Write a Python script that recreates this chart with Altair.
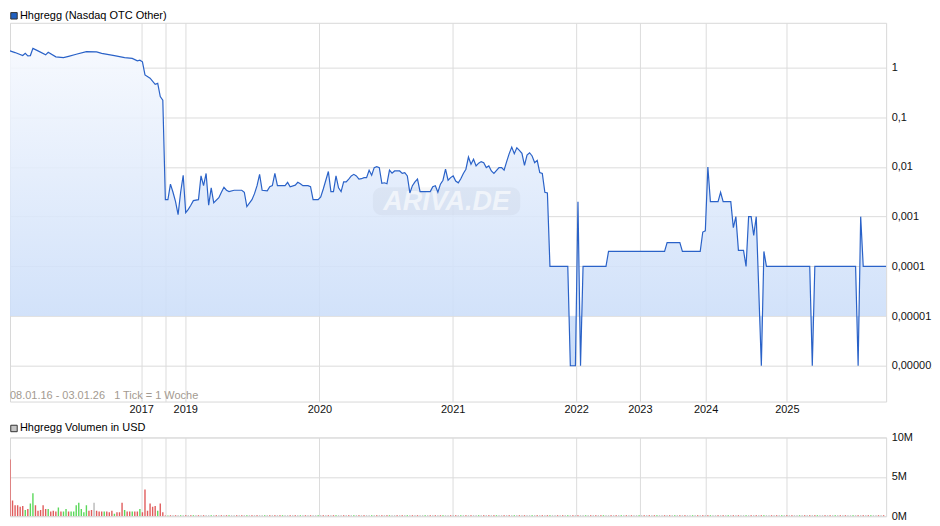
import altair as alt
import pandas as pd

# ---------------- data ----------------
# price: weekly tick index -> price (USD)
price_idx = [0, 2, 5, 6, 7, 8, 9, 11, 14, 15, 18, 21, 23, 26, 30, 34, 36, 41, 45, 48, 50, 51, 52, 53, 55, 57, 58, 59, 60, 61,
             62, 63, 64, 65, 66, 67, 68, 69, 70, 71, 72, 74, 75, 76, 77, 78, 79, 80, 82, 83, 84, 85, 86, 88, 91, 92, 93, 95, 96,
             97, 98, 99, 101, 102, 103, 104, 105, 108, 109, 110, 112, 113, 114, 115, 117, 118, 119, 121, 122, 123, 125, 126,
             127, 128, 129, 130, 131, 132, 133,
             134, 135, 136, 137, 138, 139, 140, 141, 142, 143, 144, 145, 146, 147, 148, 149, 150, 151, 153, 154, 155, 156,
             157, 158, 159, 160, 161, 165, 166, 167, 168, 169, 170, 171, 172, 173, 174, 175, 176, 177, 178, 179, 180, 181,
             182, 183, 184, 185, 186, 187, 188, 189, 190, 192, 193, 194, 195, 196, 197, 198, 199, 200, 201, 202, 203, 204,
             205, 206, 207, 208, 209, 210, 211,
             212, 219, 220, 222, 223, 224, 225, 234, 235, 257, 258, 263, 264, 271, 272, 273, 274, 275, 278, 279, 280, 283,
             284, 285, 286, 288, 289, 290, 291, 292, 293, 295, 296, 297, 314, 315, 316, 332, 333, 334, 335, 344]
price_val = [2.16, 2.0, 1.74, 1.93, 1.72, 1.74, 2.43, 2.16, 1.8, 2.02, 1.64, 1.58, 1.68, 1.85, 2.09, 2.06, 1.92, 1.74, 1.58,
             1.53, 1.36, 1.40, 1.30, 0.71, 0.61, 0.46, 0.48, 0.26, 0.22, 0.0022,
             0.0022, 0.0045, 0.0031, 0.0020, 0.0011, 0.0031, 0.0068, 0.0012, 0.0014, 0.0017, 0.0021, 0.0022, 0.0066,
             0.0042, 0.0074, 0.0017, 0.0038, 0.0019, 0.0024, 0.0031, 0.0039, 0.0034, 0.0032, 0.0034, 0.0034, 0.0031,
             0.0016, 0.0022, 0.0029, 0.0042, 0.0071, 0.0034, 0.0033, 0.0040, 0.0042, 0.0074, 0.0042, 0.0042, 0.0049,
             0.0040, 0.0043, 0.0049, 0.0046, 0.0042, 0.0042, 0.0040, 0.0022, 0.0022, 0.0025, 0.0036, 0.0081, 0.0032,
             0.0032, 0.0066, 0.0038, 0.0032, 0.0050, 0.0050, 0.0057,
             0.0066, 0.0071, 0.0066, 0.0057, 0.0058, 0.0061, 0.0061, 0.0086, 0.0068, 0.0097, 0.0101, 0.0097, 0.0047,
             0.0048, 0.0046, 0.0086, 0.0075, 0.0083, 0.0083, 0.0074, 0.0077, 0.0066, 0.0030, 0.0042, 0.0050, 0.0057,
             0.0032, 0.0032, 0.0040, 0.0042, 0.0031, 0.0045, 0.0054, 0.0090, 0.0054, 0.0061, 0.0066, 0.0052, 0.0048,
             0.0058, 0.0074, 0.0090, 0.0158, 0.0113, 0.0143, 0.0105, 0.0119, 0.0128, 0.0122, 0.0097, 0.0105, 0.0083,
             0.0074, 0.0097, 0.0097, 0.0086, 0.0128, 0.0185, 0.0251, 0.0185, 0.0243, 0.0216, 0.0188, 0.0108, 0.0174,
             0.0193, 0.0166, 0.0122, 0.0136, 0.0077, 0.0074, 0.0031, 0.0030,
             0.0001, 0.0001, 0.000001, 0.000001, 0.002, 0.000001, 0.0001, 0.0001, 0.0002, 0.0002, 0.0003, 0.0003,
             0.0002, 0.0002, 0.00049, 0.00052, 0.01, 0.002, 0.002, 0.0031, 0.002, 0.002, 0.0006, 0.001, 0.00021,
             0.00021, 0.0001, 0.001, 0.001, 0.00042, 0.001, 0.000001, 0.0002, 0.0001, 0.0001, 0.000001, 0.0001,
             0.0001, 0.000001, 0.001, 0.0001, 0.0001]

# weekly volume in million USD (first weeks), direction r=down g=up n=unchanged
vol_early = [7.2, 2.0, 1.4, 1.4, 1.2, 1.3, 0.8, 0.9, 1.6, 2.9, 1.4, 0.7, 0.8, 1.4, 0.9, 0.9, 0.6, 0.7, 0.6, 1.1,
             0.6, 0.6, 0.9, 0.6, 0.6, 0.6, 1.4, 1.7, 0.9, 0.5, 1.4, 0.7, 0.8, 1.7, 0.7, 0.6, 0.6, 0.6, 0.6, 0.5,
             0.7, 0.3, 0.5, 0.5, 1.7, 0.8, 0.6, 0.6, 0.6, 0.6, 0.6, 0.9, 0.5, 3.4, 0.7, 1.6, 1.2, 1.3, 0.7, 1.6,
             0.5, 0.1, 0.1]
vol_early_dir = ("rrrrrrgrgg" "rrrrrgrrrg" "rggrgggggg" "grrnrrrgrr" "rgrrrgrrgr" "rgrrrrrrgr" "rrg")
# later weeks: tiny volumes (about 0.1M each)
vol_late_level = 0.12
vol_late_dir = ("rnrngnrnrg" "nrnrnngnrn" "rnrgnnrnrn" "gnrnrnngnr" "nrnrgnnrnr" "ngnrnrnngn" "rnrnrgnnrn"
                "rngnrnrnng" "nrnrnrgnnr" "nrngnrnrnn" "gnrnrnrgnn" "rnrngnrnrn" "ngnrnrnrgn" "nrnrngnrnr"
                "nngnrnrnrg" "nnrnrngnrn" "rnngnrnrnr" "gnnrnrngnr" "nrnngnrnrn" "rgnnrnrngn" "rnrnngnrnr"
                "nrgnnrnrng" "nrnrnngnrn" "rnrgnnrnrn" "gnrnrnngnr" "nrnrgnnrnr" "ngnrnrnngn" "rnrnrgnnrn" "r")

year_labels = ["2017", "", "2019", "2020", "2021", "2022", "2023", "2024", "2025"]
year_pos = [51.5, 61.2, 68.8, 121.5, 173.8, 222.3, 247.3, 273.1, 305.0]
price_ticks = [1, 0.1, 0.01, 0.001, 0.0001, 0.00001, 0.000001]
vol_ticks = [0, 5, 10]

title_price = "Hhgregg (Nasdaq OTC Other)"
title_vol = "Hhgregg Volumen in USD"
range_text = "08.01.16 - 03.01.26\u00a0\u00a0\u00a01 Tick = 1 Woche"
watermark = "ARIVA.DE"

# ---------------- tables ----------------
price_df = pd.DataFrame({"i": price_idx, "p": price_val})
n_early = len(vol_early)
n_late = 344 - n_early
vol_df = pd.DataFrame({
    "i": list(range(n_early)) + list(range(n_early, n_early + n_late)),
    "v": vol_early + [vol_late_level] * n_late,
    "d": list(vol_early_dir) + list(vol_late_dir[:n_late]),
})

# ---------------- layout ----------------
W, H1, H2 = 879, 380, 79
FONT = "Liberation Sans"
x_scale = alt.Scale(domain=[0, 344], nice=False, zero=False, padding=0)
y_scale = alt.Scale(type="log", domain=[10 ** -6.72, 10 ** 0.90], nice=False)
v_scale = alt.Scale(domain=[0, 10], nice=False)

x_label_expr = " : ".join(f"abs(datum.value - {p}) < 0.01 ? '{l}'" for p, l in zip(year_pos, year_labels)) + " : ''"

common = dict(labelFont=FONT, labelFontSize=11, labelColor="#111", gridColor="#dcdcdc", gridWidth=1,
              domain=False, ticks=False, tickSize=0, title=None)

x_axis_top = alt.Axis(values=year_pos, labelExpr=x_label_expr, labelPadding=2, labelAngle=0,
                      labelOverlap=False, labelFlush=False, **common)
y_axis_top = alt.Axis(orient="right", values=price_ticks,
                      labelExpr="replace(format(datum.value, '.6~f'), '.', ',')",
                      labelPadding=5, labelAlign="left", labelBaseline="middle",
                      labelOverlap=False, labelFlush=False, **common)
x_axis_vol = alt.Axis(values=year_pos, labels=False, **common)
y_axis_vol = alt.Axis(orient="right", values=vol_ticks, labelExpr="datum.value + 'M'",
                      labelPadding=5, labelAlign="left", labelBaseline="middle",
                      labelOverlap=False, labelFlush=False, **common)

gradient = alt.Gradient(gradient="linear", x1=0, x2=0, y1=0, y2=1,
                        stops=[alt.GradientStop(color="#f5f8fe", offset=0),
                               alt.GradientStop(color="#c4d9f8", offset=1)])

area = alt.Chart(price_df).mark_area(color=gradient, opacity=0.88, clip=True).encode(
    x=alt.X("i:Q", scale=x_scale, axis=x_axis_top),
    y=alt.Y("p:Q", scale=y_scale, axis=y_axis_top),
    y2=alt.datum(0.00001),
)
line = alt.Chart(price_df).mark_line(color="#2a62c8", strokeWidth=1.2, clip=True).encode(
    x=alt.X("i:Q", scale=x_scale, axis=x_axis_top),
    y=alt.Y("p:Q", scale=y_scale, axis=y_axis_top),
)

one = pd.DataFrame({"k": [0]})
wm_rect = alt.Chart(one).mark_rect(color="#000000", opacity=0.03, cornerRadius=9).encode(
    x=alt.value(364), x2=alt.value(512), y=alt.value(165), y2=alt.value(193))
wm_text = alt.Chart(pd.DataFrame({"t": [watermark]})).mark_text(
    font=FONT, fontSize=27, fontStyle="italic", fontWeight="bold", color="#ffffff", opacity=0.6,
    align="center", baseline="middle").encode(x=alt.value(438), y=alt.value(180), text="t:N")
range_lbl = alt.Chart(pd.DataFrame({"t": [range_text]})).mark_text(
    font=FONT, fontSize=11, color="#a39a90", align="left", baseline="middle").encode(
    x=alt.value(0), y=alt.value(H1 - 6), text="t:N")
sq1 = alt.Chart(one).mark_square(size=42, fill="#2060c0", stroke="#333333", strokeWidth=1, opacity=1).encode(
    x=alt.value(4), y=alt.value(-7))
ttl1 = alt.Chart(pd.DataFrame({"t": [title_price]})).mark_text(
    font=FONT, fontSize=11, color="#000000", align="left", baseline="middle").encode(
    x=alt.value(10), y=alt.value(-7), text="t:N")

top = alt.layer(area, wm_rect, wm_text, line, range_lbl, sq1, ttl1).properties(width=W, height=H1)

bars = alt.Chart(vol_df).mark_bar(size=1.4, clip=True).encode(
    x=alt.X("i:Q", scale=x_scale, axis=x_axis_vol),
    y=alt.Y("v:Q", scale=v_scale, axis=y_axis_vol),
    color=alt.Color("d:N", scale=alt.Scale(domain=["r", "g", "n"], range=["#e05c5c", "#5bd85b", "#b8b8b8"]),
                    legend=None),
)
sq2 = alt.Chart(one).mark_square(size=42, fill="#c4c4c4", stroke="#333333", strokeWidth=1, opacity=1).encode(
    x=alt.value(4), y=alt.value(-9))
ttl2 = alt.Chart(pd.DataFrame({"t": [title_vol]})).mark_text(
    font=FONT, fontSize=11, color="#000000", align="left", baseline="middle").encode(
    x=alt.value(10), y=alt.value(-9), text="t:N")

bottom = alt.layer(bars, sq2, ttl2).properties(width=W, height=H2)

chart = alt.vconcat(top, bottom, spacing=6).properties(
    padding={"left": 0, "top": 0, "right": -6, "bottom": 0}
).configure(font=FONT).configure_view(stroke="#d8d8d8", strokeWidth=1)

chart.save("out.html", embed_options={"renderer": "svg", "actions": False})
